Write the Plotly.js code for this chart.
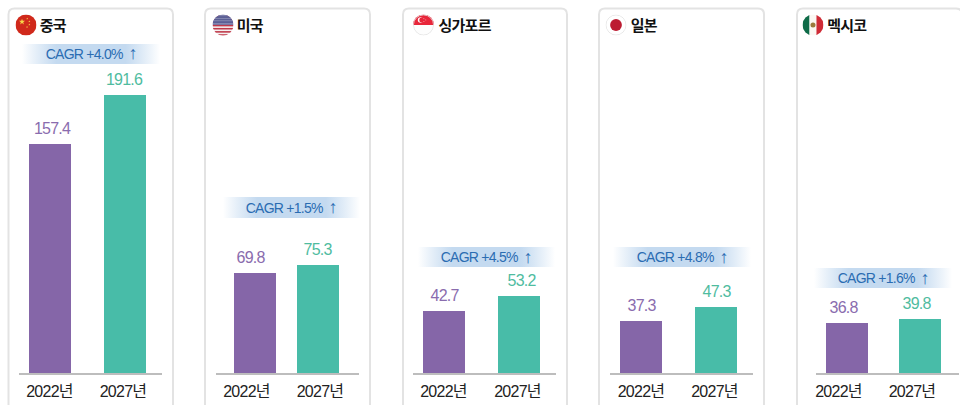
<!DOCTYPE html>
<html><head><meta charset="utf-8">
<script src="https://cdn.plot.ly/plotly-3.0.1.min.js"></script>
<style>html,body{margin:0;padding:0;background:#fff;overflow:hidden}#c{width:960px;height:405px}#c svg text{letter-spacing:-.75px}</style>
</head><body><div id="c"></div>
<script>
const countries = ['중국','미국','싱가포르','일본','멕시코'];
const years = ['2022년','2027년'];
const values2022 = [157.4,69.8,42.7,37.3,36.8];
const values2027 = [191.6,75.3,53.2,47.3,39.8];
const cagr = ['CAGR +4.0%','CAGR +1.5%','CAGR +4.5%','CAGR +4.8%','CAGR +1.6%'];

const W=960,H=405,BASE=373;
const FONT='"Liberation Sans","Noto Sans CJK KR",sans-serif';
const PURPLE='#8566a8',TEAL='#48bca8';
const pxPerUnit=[1.453,1.435,1.445,1.405,1.36];
const cards=[[8.5,173],[205,370],[403,567],[599,764],[797,962]];
const axes=[[19,162],[216,359],[413,556],[610,753],[816,959]];
const centers=[[50,124.5],[255,317.5],[444,519],[641,716],[847,920]];
const tickCenters=[[49.5,123],[246.5,320],[443.5,517.5],[641,714.5],[838.5,912]];
const labelShift=[[1.5,-1],[-4.5,-0.5],[0,2],[0,0],[-4,-4]];
const bands=[[22,160,44,64],[223,360,197,218],[418,555,247,267],[613,751,247,267],[814,952,268,288]];
const flagX=[26,223,423.5,616,813];
const titleX=[37,234,435,628,824];

const px=x=>x/W, py=y=>1-y/H;
function svg(inner){return 'data:image/svg+xml;utf8,'+encodeURIComponent('<svg xmlns="http://www.w3.org/2000/svg" width="200" height="200" viewBox="0 0 200 200"><defs><clipPath id="k"><circle cx="100" cy="100" r="100"/></clipPath></defs><g clip-path="url(#k)">'+inner+'</g></svg>');}
function star(cx,cy,r,f){let p=[];for(let i=0;i<10;i++){const a=-Math.PI/2+i*Math.PI/5,q=i%2?r*0.4:r;p.push((cx+q*Math.cos(a)).toFixed(1)+','+(cy+q*Math.sin(a)).toFixed(1));}return `<polygon points="${p.join(' ')}" fill="${f}"/>`;}
let us='<rect width="200" height="200" fill="#f4f0f0"/>';
for(let i=0;i<7;i++)us+=`<rect y="${i*30+8}" width="200" height="15" fill="#c0394a"/>`;
us+='<rect width="200" height="98" fill="#5b5f95" />';
for(let i=0;i<4;i++)us+=`<rect y="${i*24+10}" width="200" height="5" fill="#a8aac8"/>`;
const ring='<circle cx="100" cy="100" r="96" fill="none" stroke="#e2e2e2" stroke-width="8"/>';
const flags=[
 svg('<rect width="200" height="200" fill="#d0291b"/>'+star(62,70,30,'#f7d64a')+star(112,40,10,'#f7d64a')+star(132,66,10,'#f7d64a')+star(132,96,10,'#f7d64a')+star(110,120,10,'#f7d64a')),
 svg(us),
 svg('<rect width="200" height="100" fill="#e8263a"/><rect y="100" width="200" height="100" fill="#fdfdfd"/><circle cx="72" cy="52" r="26" fill="#fff"/><circle cx="84" cy="52" r="24" fill="#e8263a"/>'+star(104,40,6,'#fff')+star(122,52,6,'#fff')+star(104,66,6,'#fff')+ring),
 svg('<rect width="200" height="200" fill="#fff"/>'+ring+'<circle cx="100" cy="100" r="56" fill="#bc1c32"/>'),
 svg('<rect width="67" height="200" fill="#0e6b48"/><rect x="67" width="66" height="200" fill="#fbf8f3"/><rect x="133" width="67" height="200" fill="#cf2b36"/><circle cx="100" cy="100" r="24" fill="#9a7a3c"/>')
];
const bandImg='data:image/svg+xml;utf8,'+encodeURIComponent('<svg xmlns="http://www.w3.org/2000/svg" width="138" height="20" preserveAspectRatio="none" viewBox="0 0 138 20"><defs><linearGradient id="g"><stop offset="0" stop-color="#bcd5ee" stop-opacity="0"/><stop offset="0.25" stop-color="#c4daf0"/><stop offset="0.75" stop-color="#c4daf0"/><stop offset="1" stop-color="#bcd5ee" stop-opacity="0"/></linearGradient></defs><rect width="138" height="20" fill="url(#g)"/></svg>');

const data=[],shapes=[],images=[],annotations=[];
const layout={width:W,height:H,margin:{l:0,r:0,t:0,b:0},paper_bgcolor:'#fff',plot_bgcolor:'rgba(0,0,0,0)',showlegend:false,bargap:0};
countries.forEach((name,i)=>{
 const sfx=i?String(i+1):'';
 const [c0,c1]=centers[i],sp=c1-c0,[a0,a1]=axes[i];
 layout['xaxis'+sfx]={domain:[px(a0),px(a1)],anchor:'y'+sfx,type:'category',range:[(a0-c0)/sp,(a1-c0)/sp],
  tickmode:'array',tickvals:tickCenters[i].map(t=>(t-c0)/sp),ticktext:years,
  showline:true,linecolor:'#bdbdbd',linewidth:1.5,showgrid:false,zeroline:false,ticks:'',fixedrange:true,
  tickfont:{family:FONT,size:16,color:'#222'},ticklabelstandoff:3};
 layout['yaxis'+sfx]={domain:[1-BASE/H,1],range:[0,BASE/pxPerUnit[i]],visible:false,fixedrange:true,anchor:'x'+sfx};
 const vals=[values2022[i],values2027[i]];
 data.push({type:'bar',x:years,y:vals,xaxis:'x'+sfx,yaxis:'y'+sfx,width:42/sp,marker:{color:[PURPLE,TEAL]},hoverinfo:'skip'});
 vals.forEach((v,k)=>annotations.push({text:v.toFixed(1),xref:'x'+sfx,yref:'y'+sfx,x:k,y:v,xshift:labelShift[i][k],yshift:15.5,xanchor:'center',yanchor:'middle',showarrow:false,
  font:{family:FONT,size:16,color:k?'#4fbc9f':'#8a6cae'}}));
 const [cx0,cx1]=cards[i];const r=6,T=8.5,B=420;
 const X=v=>px(v).toFixed(5),Y=v=>py(v).toFixed(5);
 shapes.push({type:'path',xref:'paper',yref:'paper',layer:'below',line:{color:'#e3e3e3',width:2},
  path:`M ${X(cx0)} ${Y(B)} L ${X(cx0)} ${Y(T+r)} Q ${X(cx0)} ${Y(T)} ${X(cx0+r)} ${Y(T)} L ${X(cx1-r)} ${Y(T)} Q ${X(cx1)} ${Y(T)} ${X(cx1)} ${Y(T+r)} L ${X(cx1)} ${Y(B)}`});
 const b=bands[i];
 images.push({source:bandImg,xref:'paper',yref:'paper',x:px(b[0]),y:py(b[2]),sizex:(b[1]-b[0])/W,sizey:(b[3]-b[2])/H,sizing:'stretch',xanchor:'left',yanchor:'top',layer:'below'});
 images.push({source:flags[i],xref:'paper',yref:'paper',x:px(flagX[i]-10.5),y:py(25-10.5),sizex:21/W,sizey:21/H,sizing:'stretch',xanchor:'left',yanchor:'top',layer:'above'});
 annotations.push({text:name,xref:'paper',yref:'paper',x:px(titleX[i]),y:py(24.5),xanchor:'left',yanchor:'middle',showarrow:false,
  font:{family:'"Noto Sans CJK KR",sans-serif',size:15,color:'#111',weight:700}});
 const mid=(b[0]+b[1])/2,cy=(b[2]+b[3])/2;
 annotations.push({text:cagr[i],xref:'paper',yref:'paper',x:px(mid-7.5),y:py(cy),xanchor:'center',yanchor:'middle',showarrow:false,
  font:{family:FONT,size:14,color:'#2a6cb2'}});
 annotations.push({text:'↑',xref:'paper',yref:'paper',x:px(mid+41),y:py(cy-0.5),xanchor:'center',yanchor:'middle',showarrow:false,
  font:{family:FONT,size:18,color:'#2a6cb2'}});
});
layout.shapes=shapes;layout.images=images;layout.annotations=annotations;
Plotly.newPlot('c',data,layout,{displayModeBar:false,staticPlot:true});
</script></body></html>
